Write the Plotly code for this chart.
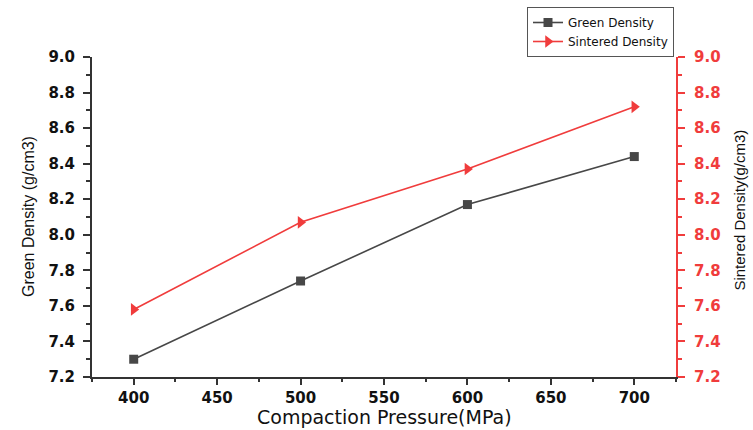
import plotly.graph_objects as go

pressure = [400, 500, 600, 700]
green_density = [7.30, 7.74, 8.17, 8.44]
sintered_density = [7.58, 8.07, 8.37, 8.72]

x_ticks = [400, 450, 500, 550, 600, 650, 700]
y_ticks = [7.2, 7.4, 7.6, 7.8, 8.0, 8.2, 8.4, 8.6, 8.8, 9.0]
y_tick_text = [f"{v:.1f}" for v in y_ticks]

x_title = "Compaction Pressure(MPa)"
y_title = "Green Density (g/cm3)"
y2_title = "Sintered Density(g/cm3)"

GRAY = "#474747"
RED = "#F03C3C"
AXIS = "#333333"
XR = [375, 725]
YR = [7.2, 9.0]

tick_font = dict(family="DejaVu Sans", size=15, color="#111111", weight="bold")

fig = go.Figure()
fig.add_trace(go.Scatter(
    x=pressure, y=green_density, name="Green Density",
    mode="lines+markers",
    line=dict(color=GRAY, width=1.6),
    marker=dict(symbol="square", size=9, color=GRAY),
    xaxis="x", yaxis="y",
))
fig.add_trace(go.Scatter(
    x=pressure, y=sintered_density, name="Sintered Density",
    mode="lines+markers",
    line=dict(color=RED, width=1.6),
    marker=dict(symbol="triangle-right", size=11, color=RED),
    xaxis="x", yaxis="y2",
))

fig.update_layout(
    width=753, height=430,
    margin=dict(l=92, r=77, t=57, b=53, autoexpand=False),
    paper_bgcolor="white", plot_bgcolor="white",
    showlegend=True,
    legend=dict(
        x=(527 - 92) / 584, y=(377 - 7) / 320, xanchor="left", yanchor="top",
        bordercolor="#555555", borderwidth=1, bgcolor="white",
        font=dict(family="DejaVu Sans", size=12, color="#111111"),
        tracegroupgap=0, itemwidth=30,
    ),
    xaxis=dict(
        range=XR, tickvals=x_ticks, ticktext=[str(v) for v in x_ticks],
        showgrid=False, zeroline=False, automargin=False,
        showline=True, linecolor=AXIS, linewidth=2,
        ticks="outside", ticklen=6, tickwidth=1.5, tickcolor=AXIS,
        minor=dict(ticks="outside", ticklen=3, tickwidth=1.5, tickcolor=AXIS, dtick=25, tick0=375),
        tickfont=tick_font, ticklabelstandoff=0,
    ),
    xaxis2=dict(
        range=XR, overlaying="x", side="top", tickvals=x_ticks, showticklabels=False,
        showgrid=False, zeroline=False, automargin=False,
        showline=True, linecolor=AXIS, linewidth=2,
        ticks="inside", ticklen=6, tickwidth=1.5, tickcolor=AXIS,
        minor=dict(ticks="inside", ticklen=3, tickwidth=1.5, tickcolor=AXIS, dtick=25, tick0=375),
    ),
    yaxis=dict(
        range=YR, tickvals=y_ticks, ticktext=y_tick_text,
        showgrid=False, zeroline=False, automargin=False,
        showline=True, linecolor=AXIS, linewidth=2,
        ticks="outside", ticklen=7, tickwidth=1.5, tickcolor=AXIS,
        minor=dict(ticks="outside", ticklen=4, tickwidth=1.5, tickcolor=AXIS, dtick=0.1, tick0=7.2),
        tickfont=tick_font, ticklabelstandoff=5,
    ),
    yaxis2=dict(
        range=YR, overlaying="y", side="right", tickvals=y_ticks, ticktext=y_tick_text,
        showgrid=False, zeroline=False, automargin=False,
        showline=True, linecolor=RED, linewidth=2,
        ticks="outside", ticklen=7, tickwidth=1.5, tickcolor=RED,
        minor=dict(ticks="outside", ticklen=4, tickwidth=1.5, tickcolor=RED, dtick=0.1, tick0=7.2),
        tickfont=dict(family="DejaVu Sans", size=15, color=RED, weight="bold"), ticklabelstandoff=6,
    ),
    annotations=[
        dict(text=x_title, xref="paper", yref="paper", x=0.5, y=0, xanchor="center", yanchor="bottom",
             yshift=-53, showarrow=False,
             font=dict(family="DejaVu Sans", size=19, color="#111111")),
        dict(text=y_title, xref="paper", yref="paper", x=0, y=0.5, xanchor="center", yanchor="middle",
             xshift=-64, textangle=-90, showarrow=False,
             font=dict(family="Liberation Sans", size=16, color="#111111")),
        dict(text=y2_title, xref="paper", yref="paper", x=1, y=0.52, xanchor="center", yanchor="middle",
             xshift=64, textangle=-90, showarrow=False,
             font=dict(family="Liberation Sans", size=15, color="#111111")),
    ],
)

fig.write_html("out.html", config={"displayModeBar": False},
               post_script="document.body.style.margin='0';document.body.style.overflow='hidden';")
